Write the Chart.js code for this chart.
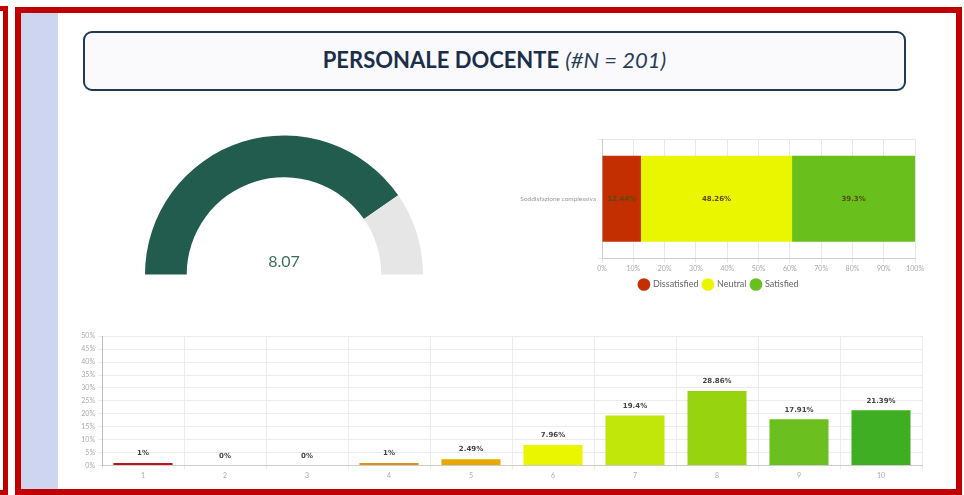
<!DOCTYPE html>
<html>
<head>
<meta charset="utf-8">
<script src="https://cdn.jsdelivr.net/npm/chart.js@4"></script>
<style>
  html, body { margin: 0; padding: 0; background: #fff; width: 964px; height: 495px; overflow: hidden; font-family: Lato, sans-serif; }
  .abs { position: absolute; box-sizing: border-box; }
  #frameLeft { left: -12px; top: 6px; width: 20px; height: 489px; border: 5px solid #c00000; }
  #frameMain { left: 15px; top: 7px; width: 947px; height: 488px; border: 6px solid #c00000; }
  #strip { left: 21px; top: 13px; width: 37px; height: 476px; background: #cdd5f0; }
  #title { left: 83px; top: 31px; width: 823px; height: 60px; border: 2px solid #203a56; border-radius: 9px; background: #fafafc;
           display: flex; align-items: center; justify-content: center; font-size: 22px; color: #1b2f4b; padding-bottom: 3px; }
  #title b { font-weight: 700; }
  #title i { font-weight: 400; margin-left: 6px; color: #2a3d57; }
  canvas { display: block; }
</style>
</head>
<body>
<div id="frameLeft" class="abs"></div>
<div id="frameMain" class="abs"></div>
<div id="strip" class="abs"></div>
<div id="title" class="abs"><b>PERSONALE DOCENTE</b><i>(#N = 201)</i></div>

<div class="abs" style="left:145px;top:134px;width:278px;height:142px"><canvas id="gauge"></canvas></div>
<div class="abs" style="left:512px;top:131px;width:414px;height:168px"><canvas id="stack"></canvas></div>
<div class="abs" style="left:75px;top:329px;width:852px;height:153px"><canvas id="scores"></canvas></div>

<script>
// gauge
const gaugeValue = 8.07;
const gaugeMax = 10;

// overall satisfaction (stacked bar)
const satCategory = ['Soddisfazione complessiva'];
const satLabels = ['Dissatisfied', 'Neutral', 'Satisfied'];
const satValues = [12.44, 48.26, 39.3];
const satColors = ['#c42f00', '#eaf600', '#69c01c'];
const satTicks = ['0%', '10%', '20%', '30%', '40%', '50%', '60%', '70%', '80%', '90%', '100%'];

// score distribution
const scoreLabels = ['1', '2', '3', '4', '5', '6', '7', '8', '9', '10'];
const scoreValues = [1, 0, 0, 1, 2.49, 7.96, 19.4, 28.86, 17.91, 21.39];
const scoreColors = ['#c0121b', '#d23a14', '#d8601a', '#e0901a', '#e8a800', '#eaf600', '#c1e60a', '#97d30e', '#6bbf1e', '#40ae22'];

const pct = v => v + '%';

// draws value labels for bars
const barLabels = {
  id: 'barLabels',
  afterDatasetsDraw(chart, args, opts) {
    const ctx = chart.ctx;
    ctx.save();
    ctx.font = 'bold 7px "DejaVu Sans", sans-serif';
    ctx.fillStyle = opts.color || '#444';
    ctx.textAlign = 'center';
    chart.data.datasets.forEach((ds, i) => {
      chart.getDatasetMeta(i).data.forEach((el, j) => {
        const v = ds.data[j];
        if (opts.inside) {
          ctx.textBaseline = 'middle';
          ctx.fillText(pct(v), (el.x + el.base) / 2, el.y);
        } else {
          ctx.textBaseline = 'bottom';
          ctx.fillText(pct(v), el.x, el.y - 6);
        }
      });
    });
    ctx.restore();
  }
};

const gaugeText = {
  id: 'gaugeText',
  afterDraw(chart) {
    const arc = chart.getDatasetMeta(0).data[0];
    if (!arc) return;
    const ctx = chart.ctx;
    ctx.save();
    ctx.font = '16px Lato, sans-serif';
    ctx.fillStyle = '#3c6e60';
    ctx.textAlign = 'center';
    ctx.textBaseline = 'middle';
    ctx.fillText(gaugeValue.toFixed(2), arc.x, arc.y - 13);
    ctx.restore();
  }
};

Chart.defaults.font.family = 'Lato, sans-serif';
Chart.defaults.animation = false;

new Chart(document.getElementById('gauge'), {
  type: 'doughnut',
  data: {
    datasets: [{
      data: [gaugeValue, gaugeMax - gaugeValue],
      backgroundColor: ['#225c4f', '#e6e6e6'],
      borderWidth: 0,
    }],
  },
  options: {
    responsive: true, maintainAspectRatio: false,
    rotation: -90, circumference: 180, cutout: '70%',
    plugins: { legend: { display: false }, tooltip: { enabled: false } },
  },
  plugins: [gaugeText],
});

new Chart(document.getElementById('stack'), {
  type: 'bar',
  data: {
    labels: satCategory,
    datasets: satLabels.map((l, i) => ({
      label: l, data: [satValues[i]], backgroundColor: satColors[i], borderWidth: 0,
    })),
  },
  options: {
    indexAxis: 'y',
    responsive: true, maintainAspectRatio: false,
    layout: { padding: { top: 8, right: 0 } },
    scales: {
      x: {
        stacked: true, min: 0, max: 100,
        ticks: { stepSize: 10, color: '#aaa', font: { size: 7 }, padding: 2, callback: (v, i) => satTicks[i] },
        grid: { color: '#e8e8e8', tickLength: 4 },
        border: { color: '#ccc' },
      },
      y: {
        stacked: true,
        ticks: { color: '#999', font: { size: 6.5 }, padding: 2 },
        grid: { color: '#e8e8e8', tickLength: 4 },
        border: { color: '#ccc' },
        afterFit: s => { s.width = 90; },
      },
    },
    plugins: {
      legend: {
        position: 'bottom',
        labels: { usePointStyle: true, pointStyle: 'circle', boxWidth: 11, boxHeight: 11, padding: 5, color: '#666', font: { size: 9 } },
      },
      tooltip: { enabled: false },
      barLabels: { inside: true, color: '#5a4a10' },
    },
  },
  plugins: [barLabels],
});

new Chart(document.getElementById('scores'), {
  type: 'bar',
  data: {
    labels: scoreLabels,
    datasets: [{ data: scoreValues, backgroundColor: scoreColors, borderWidth: 0 }],
  },
  options: {
    responsive: true, maintainAspectRatio: false,
    layout: { padding: { right: 5 } },
    scales: {
      x: {
        ticks: { color: '#aaa', font: { size: 7 }, padding: 2 },
        grid: { color: '#ececec', tickLength: 4 },
        border: { color: '#ccc' },
      },
      y: {
        min: 0, max: 50,
        ticks: { stepSize: 5, color: '#aaa', font: { size: 7 }, padding: 3, callback: pct },
        grid: { color: '#ececec', tickLength: 4 },
        border: { color: '#bbb' },
        afterFit: s => { s.width = 27; },
      },
    },
    plugins: { legend: { display: false }, tooltip: { enabled: false }, barLabels: { color: '#444' } },
  },
  plugins: [barLabels],
});
</script>
</body>
</html>
